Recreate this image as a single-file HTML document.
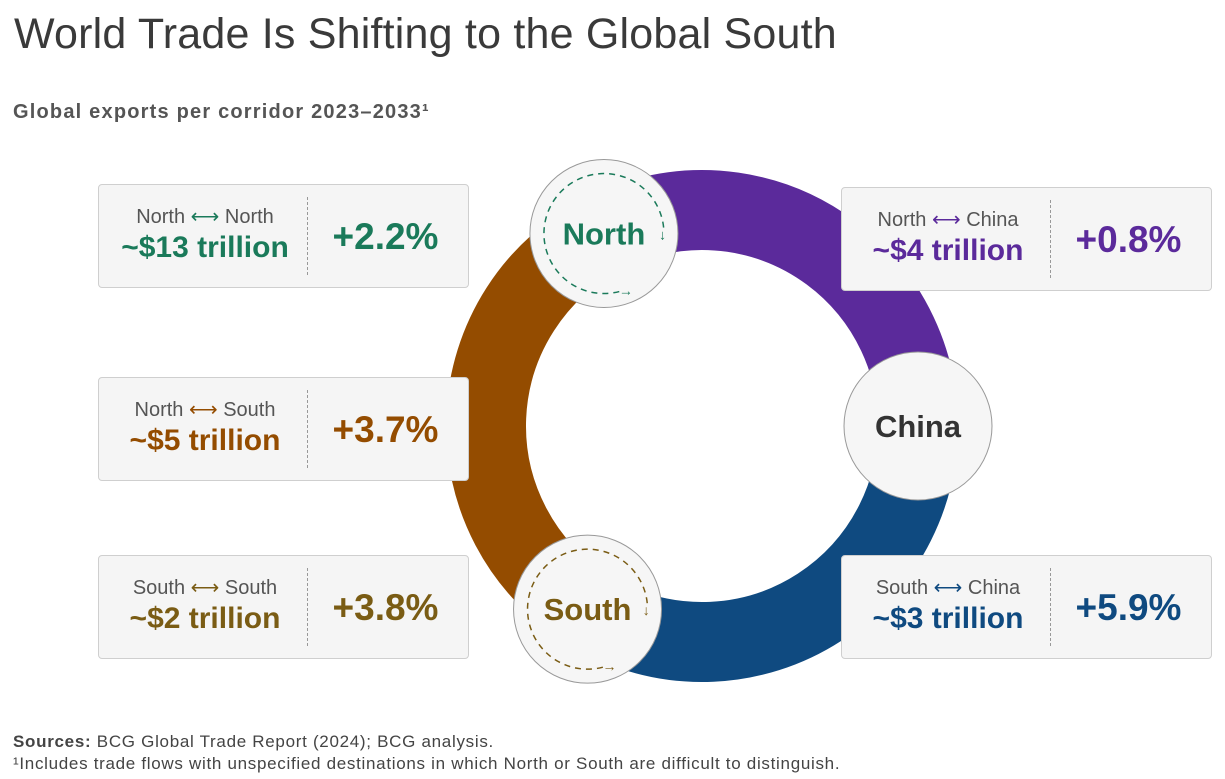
<!DOCTYPE html>
<html><head><meta charset="utf-8">
<style>
body{margin:0;width:1225px;height:779px;background:#fff;font-family:"Liberation Sans",sans-serif;position:relative;overflow:hidden}
.abs{position:absolute}
#title{left:14px;top:10px;font-size:43px;color:#3a3a3a;font-weight:300;letter-spacing:0.2px}
#subtitle{left:13px;top:101px;font-size:20px;font-weight:bold;color:#555;letter-spacing:1.2px}
.card{position:absolute;width:371px;height:104px;background:#f5f5f5;border:1.5px solid #cfcfcf;border-radius:4px;box-sizing:border-box}
.card .div{position:absolute;left:208px;top:12px;height:78px;border-left:1.5px dashed #999}
.card .lbl{position:absolute;left:0;width:212px;top:19px;text-align:center;font-size:20px;color:#555}
.card .val{position:absolute;left:0;width:212px;top:46px;text-align:center;font-size:30px;font-weight:bold}
.card .pct{position:absolute;left:210px;width:153px;top:31px;text-align:center;font-size:37px;font-weight:bold}
#src{left:13px;top:732px;font-size:17px;color:#444;letter-spacing:0.7px}
#note{left:13px;top:754px;font-size:17px;color:#444;letter-spacing:0.7px}
</style></head><body>
<div id="title" class="abs">World Trade Is Shifting to the Global South</div>
<div id="subtitle" class="abs">Global exports per corridor 2023–2033¹</div>
<svg id="ring" class="abs" style="left:0;top:0" width="1225" height="779"></svg>
<div id="cards"></div>
<div id="src" class="abs"><b>Sources:</b> BCG Global Trade Report (2024); BCG analysis.</div>
<div id="note" class="abs">¹Includes trade flows with unspecified destinations in which North or South are difficult to distinguish.</div>
<script>
const corridors=["North ⟷ North","North ⟷ South","South ⟷ South","North ⟷ China","South ⟷ China"];
const values=["~$13 trillion","~$5 trillion","~$2 trillion","~$4 trillion","~$3 trillion"];
const growth=["+2.2%","+3.7%","+3.8%","+0.8%","+5.9%"];
const colors=["#1a7a5a","#944c00","#7a5c14","#5b2a9b","#0f4a80"];
const nodes=["North","China","South"];
const nodeAngles=[-117,0,122];
const nodeColors=["#1a7a5a","#333","#7a5c14"];

const cardPos=[[98,184],[98,377],[98,555],[841,187],[841,555]];
const cc=document.getElementById('cards');
corridors.forEach((c,i)=>{
  const d=document.createElement('div');d.className='card';
  
  
  d.style.left=cardPos[i][0]+'px';d.style.top=cardPos[i][1]+'px';
  const parts=c.split(' ⟷ ');
  d.innerHTML=`<div class="lbl">${parts[0]} <span style="color:${colors[i]}">⟷</span> ${parts[1]}</div><div class="val" style="color:${colors[i]}">${values[i]}</div><div class="div"></div><div class="pct" style="color:${colors[i]}">${growth[i]}</div>`;
  cc.appendChild(d);
});

const svg=document.getElementById('ring');const NS='http://www.w3.org/2000/svg';
const cx=702,cy=426,R=216,W=80;
function pt(a,r){const t=a*Math.PI/180;return [cx+r*Math.cos(t),cy+r*Math.sin(t)];}
function arc(a1,a2,col,name){
  const p1=pt(a1,R),p2=pt(a2,R);let sweep=a2>a1?1:0;let large=Math.abs(a2-a1)>180?1:0;
  const p=document.createElementNS(NS,'path');
  p.setAttribute('d',`M${p1[0]},${p1[1]} A${R},${R} 0 ${large} ${sweep} ${p2[0]},${p2[1]}`);
  p.setAttribute('fill','none');p.setAttribute('stroke',col);p.setAttribute('stroke-width',W);
  
  
  svg.appendChild(p);
}
arc(nodeAngles[0]+360,nodeAngles[2],colors[1],'north-south-arc');
arc(nodeAngles[0]+10,nodeAngles[1],colors[3],'north-china-arc');
arc(nodeAngles[1],nodeAngles[2]-8,colors[4],'south-china-arc');
nodes.forEach((n,i)=>{
  const [x,y]=pt(nodeAngles[i],R);
  const g=document.createElementNS(NS,'g');
  
  
  const c=document.createElementNS(NS,'circle');
  c.setAttribute('cx',x);c.setAttribute('cy',y);c.setAttribute('r',74);
  c.setAttribute('fill','#f6f6f6');c.setAttribute('stroke','#999');c.setAttribute('stroke-width',1);
  g.appendChild(c);
  if(n!=='China'){
    const d=document.createElementNS(NS,'path');const r=60;
    d.setAttribute('d',`M${x+r*Math.cos(-0.1)},${y+r*Math.sin(-0.1)} A${r},${r} 0 1 0 ${x+r*Math.cos(1.25)},${y+r*Math.sin(1.25)}`);
    d.setAttribute('fill','none');d.setAttribute('stroke',nodeColors[i]);d.setAttribute('stroke-width',1.5);d.setAttribute('stroke-dasharray','6 5');
    g.appendChild(d);
    const t1=document.createElementNS(NS,'text');t1.setAttribute('x',x+r*Math.cos(-0.1)-1);t1.setAttribute('y',y+r*Math.sin(-0.1)+12);
    t1.setAttribute('font-size',14);t1.setAttribute('fill',nodeColors[i]);t1.setAttribute('text-anchor','middle');t1.textContent='↓';g.appendChild(t1);
    const t2=document.createElementNS(NS,'text');t2.setAttribute('x',x+r*Math.cos(1.25)+3);t2.setAttribute('y',y+r*Math.sin(1.25)+5);
    t2.setAttribute('font-size',14);t2.setAttribute('fill',nodeColors[i]);t2.setAttribute('text-anchor','middle');t2.textContent='→';g.appendChild(t2);
  }
  const t=document.createElementNS(NS,'text');
  t.setAttribute('x',x);t.setAttribute('y',y+11);t.setAttribute('text-anchor','middle');
  t.setAttribute('font-size',31);t.setAttribute('font-weight','bold');t.setAttribute('fill',nodeColors[i]);
  t.setAttribute('font-family','Liberation Sans, sans-serif');t.textContent=n;
  g.appendChild(t);svg.appendChild(g);
});
</script>
</body></html>
